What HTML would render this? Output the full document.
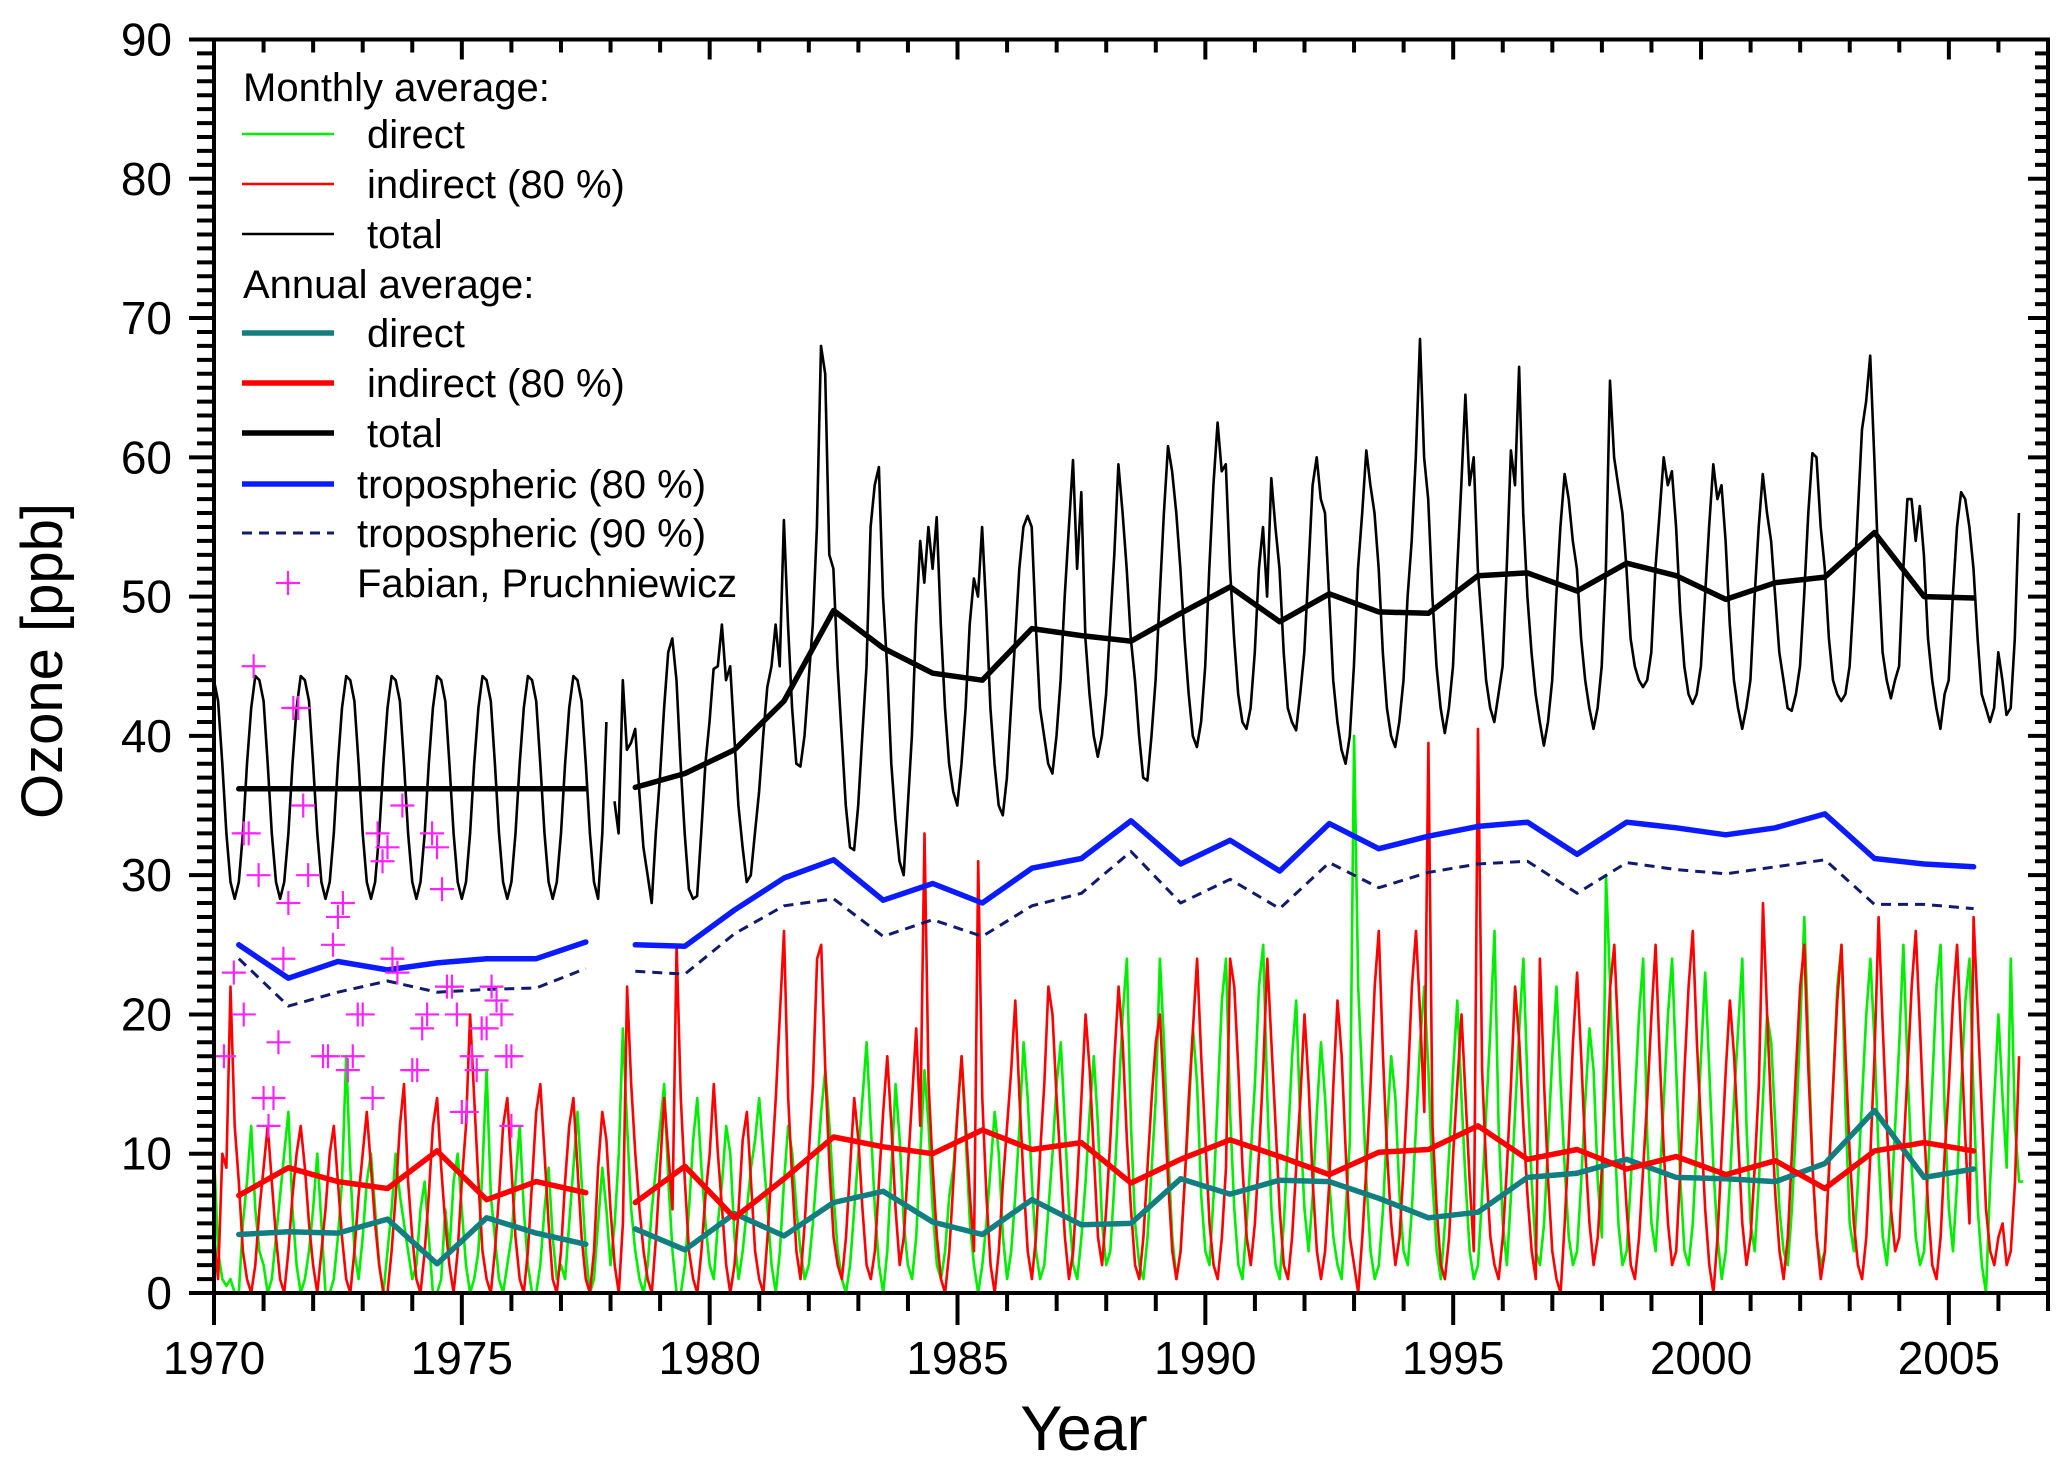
<!DOCTYPE html>
<html><head><meta charset="utf-8"><title>Ozone chart</title>
<style>
html,body{margin:0;padding:0;background:#fff;}
svg{display:block;font-family:"Liberation Sans",Arial,sans-serif;}
</style></head>
<body>
<svg id="chart" width="2067" height="1463" viewBox="0 0 2067 1463" xmlns="http://www.w3.org/2000/svg">
<defs><clipPath id="plotClip"><rect x="214" y="39" width="1834" height="1255"/></clipPath></defs>
<rect x="0" y="0" width="2067" height="1463" fill="#fff"/>
<g id="series" clip-path="url(#plotClip)"></g>
<g id="axes"></g>
<g id="legend"></g>
<text x="1084" y="1450" text-anchor="middle" font-size="63">Year</text>
<text transform="translate(62,661) rotate(-90)" text-anchor="middle" font-size="58">Ozone [ppb]</text>
</svg>
<script>
// ---------- data ----------
const annualYears = [1970.5,1971.5,1972.5,1973.5,1974.5,1975.5,1976.5,1977.5,1978.5,1979.5,1980.5,1981.5,1982.5,1983.5,1984.5,1985.5,1986.5,1987.5,1988.5,1989.5,1990.5,1991.5,1992.5,1993.5,1994.5,1995.5,1996.5,1997.5,1998.5,1999.5,2000.5,2001.5,2002.5,2003.5,2004.5,2005.5];
const annualTotal = [36.2,36.2,36.2,36.2,36.2,36.2,36.2,36.2,36.3,37.3,39,42.5,49,46.3,44.5,44,47.7,47.2,46.8,48.8,50.7,48.2,50.2,48.9,48.8,51.5,51.7,50.4,52.4,51.5,49.8,51,51.4,54.6,50,49.9];
const annualTrop80 = [25,22.6,23.8,23.2,23.7,24,24,25.2,25,24.9,27.5,29.8,31.1,28.2,29.4,28,30.5,31.2,33.9,30.8,32.5,30.3,33.7,31.9,32.8,33.5,33.8,31.5,33.8,33.4,32.9,33.4,34.4,31.2,30.8,30.6];
const annualTrop90 = [24,20.6,21.6,22.4,21.6,21.8,21.9,23.3,23.1,22.9,25.8,27.8,28.3,25.6,26.8,25.6,27.8,28.7,31.7,28,29.7,27.6,30.9,29.1,30.2,30.8,31,28.7,30.9,30.4,30.1,30.6,31.1,27.9,27.9,27.6];
const annualIndirect = [7,9,8,7.5,10.2,6.7,8,7.2,6.5,9.1,5.4,8.2,11.2,10.5,10,11.7,10.3,10.8,7.9,9.6,11,9.8,8.5,10.1,10.3,12,9.6,10.3,8.9,9.8,8.5,9.5,7.5,10.2,10.8,10.2];
const annualDirect = [4.2,4.4,4.3,5.3,2.1,5.4,4.3,3.5,4.6,3.1,5.7,4.1,6.5,7.3,5.1,4.2,6.7,4.9,5,8.2,7.1,8.1,8,6.8,5.4,5.8,8.3,8.6,9.6,8.3,8.2,8,9.3,13.1,8.3,8.9];
const annualBreakAfter = 1977.5;

const totalEarlyStart = 1970.0;
const totalEarly = [
44,42.5,38,33,29.5,28.3,29.5,33,38,42,44.3,44,
42.5,38,33,29.5,28.3,29.5,33,38,42,44.3,44,42.5,
38,33,29.5,28.3,29.5,33,38,42,44.3,44,42.5,38,
33,29.5,28.3,29.5,33,38,42,44.3,44,42.5,38,33,
29.5,28.3,29.5,33,38,42,44.3,44,42.5,38,33,29.5,
28.3,29.5,33,38,42,44.3,44,42.5,38,33,29.5,28.3,
29.5,33,38,42,44.3,44,42.5,38,33,29.5,28.3,29.5,
33,38,42,44.3,44,42.5,38,33,29.5,28.3,33,41];
const totalLateStart = 1978.08;
const totalLate = [
35.3,33,44,39,39.5,40.5,36,32,30,28,33,37,
42,46,47,44,38,33,29,28.3,28.5,33,38,41,
44.8,45,48,44,45,40,35,32,29.5,30,33,36,
40,43.5,45,48,45,55.5,48,42,38,37.8,40,44,
48,55,68,66,53,52,45,40,35,32,31.8,35,
40,45,55,58,59.3,50,45,38,34,31,30,35,
40,48,54,51,55,52,55.7,48,42,38,36,35,
38,42,48,51.3,50,55,49,42,38,35,34.3,37,
42,47,52,55,55.8,55,48,42,40,38,37.3,40,
44,50,55,59.8,52,57.5,47,43,40,38.5,40,43,
48,53,59.5,56,52,47,44,40,37,36.8,40,44,
50,56,60.8,59,56,52,47,43,40,39.2,41,45,
52,58,62.5,59,59.5,52,47,43,41,40.5,42,46,
52,55,50,58.5,55,52,46,42,41,40.4,43,46,
52,58,60,57,56,50,44,41,39,38,40,45,
52,56,60.5,58,56,52,46,42,40,39.2,41,44,
50,54,60,68.5,60,57,50,45,42,40.2,42,45,
52,58,64.5,58,60,52,48,44,42,41,43,45,
52,60.5,58,66.5,56,50,46,43,41,39.3,41,44,
50,55,58.8,57,54,52,47,44,42,40.5,42,45,
52,65.5,60,58,56,52,47,45,44,43.5,44,46,
52,56,60,58,59,55,49,45,43,42.3,43,45,
50,55,59.5,57,58,54,48,44,42,40.5,42,44,
50,55,58.8,56,54,50,46,44,42,41.8,43,45,
50,56,60.3,60,55,52,47,44,43,42.5,43,45,
50,56,62,64,67.3,60,52,46,44,42.7,44,45,
52,57,57,54,56.5,53,47,44,42,40.5,43,44,
50,55,57.5,57,55,52,47,43,42,41,42,46,
44,41.5,42,47,56];

const monthlyStart = 1970.0;
const monthlyDirect = [
10,3,1,0.5,1,0,0,5,8,12,6,3, 2,0,1,4,7,10,13,6,2,0,1,3, 6,10,5,0,0,1,4,8,17,9,3,1, 4,8,10,6,2,0,3,6,10,7,5,3,
1,2,6,8,4,0,0,1,6,3,8,10, 6,2,0,1,3,9,16,7,4,1,0,2, 4,8,12,6,2,0,0,2,6,9,4,1, 2,1,5,9,13,8,3,0,1,5,9,6,
2,5,10,19,12,6,3,1,0,2,6,9, 12,15,8,3,0,0,2,6,11,14,9,5, 2,1,5,8,12,10,4,1,3,6,9,11, 14,10,6,2,0,3,8,12,10,6,3,1,
2,5,9,13,16,12,7,3,1,0,2,6, 10,14,18,12,6,2,0,3,9,15,11,5, 2,1,4,10,16,12,6,2,1,3,7,9, 13,17,11,5,2,0,2,5,9,13,10,4,
1,3,7,12,18,14,8,3,1,2,6,10, 15,18,12,6,2,1,4,8,13,17,12,5, 2,3,8,14,20,24,12,5,2,1,4,9, 14,24,18,10,4,1,3,8,13,19,15,7,
3,2,7,14,21,24,13,6,2,1,5,10, 15,22,25,14,6,2,1,5,11,17,21,12, 6,3,7,13,18,14,8,4,2,1,6,11, 40,22,15,8,3,1,2,6,12,17,14,7,
3,2,6,12,18,22,16,8,3,1,5,10, 16,21,14,8,3,1,2,7,13,19,26,12, 5,2,7,13,19,24,15,8,3,2,5,11, 17,22,15,9,4,2,3,8,14,19,16,8,
4,30,22,12,5,2,3,8,14,20,24,11, 5,3,8,14,20,24,16,8,3,2,5,11, 17,23,16,9,4,1,3,8,14,19,24,12, 5,3,8,14,20,18,12,6,3,2,6,12,
19,27,18,9,4,2,3,9,15,22,25,13, 5,3,8,14,20,24,18,10,4,2,6,12, 18,25,16,9,4,2,3,9,15,22,25,13, 6,3,8,15,21,24,14,6,2,0,8,14,
20,14,9,24,12,8,8];
const monthlyIndirect = [
4,1,10,9,22,12,8,3,1,0,2,6, 9,12,8,4,1,0,3,7,10,12,9,5, 2,0,3,6,10,12,8,4,1,0,3,7, 10,13,9,5,2,0,0,3,7,12,15,8,
4,1,0,3,7,12,14,9,5,2,0,3, 8,12,20,14,8,3,1,0,3,7,12,14, 9,4,1,0,3,8,13,15,10,5,1,0, 3,8,12,14,9,4,1,0,3,9,13,11,
6,2,0,5,22,15,10,6,3,1,0,4, 9,14,10,6,25,14,8,3,1,0,3,7, 10,15,10,6,2,0,2,6,11,13,8,3, 1,0,4,9,14,20,26,14,8,3,1,5,
10,15,24,25,16,9,4,2,1,4,9,14, 11,6,2,1,3,8,13,17,12,6,2,4, 9,14,19,12,33,15,9,4,1,0,3,8, 13,17,12,7,3,31,14,7,2,0,3,8,
12,16,21,14,8,3,1,4,10,15,22,20, 14,9,4,1,3,8,14,20,16,10,4,2, 6,11,17,22,18,11,6,2,1,4,9,14, 18,20,14,8,3,1,3,8,14,19,24,17,
11,5,2,1,4,9,24,22,16,9,4,2, 5,10,16,24,18,12,6,2,1,4,9,14, 20,15,8,3,1,3,8,15,21,17,10,4, 2,0,4,9,15,22,26,17,10,5,2,4,
9,15,22,26,20,13,39.5,12,6,2,1,4, 10,15,20,14,8,3,40.5,16,9,4,2,1, 4,9,15,22,18,12,7,3,1,24,15,8, 3,1,0,5,11,18,23,17,10,5,2,4,
9,15,22,25,18,11,6,2,1,4,9,14, 20,25,17,10,5,2,3,9,16,22,26,18, 12,6,2,0,4,10,16,21,17,11,5,2, 4,9,15,28,20,13,7,3,1,4,10,16,
22,25,16,9,4,1,3,9,15,21,25,17, 10,5,2,1,4,10,17,27,19,12,6,3, 4,10,16,22,26,19,12,6,2,1,4,10, 15,21,25,18,11,5,27,20,13,6,3,2,
4,5,2,3,8,17];

const fabianYears = [1970.2,1970.4,1970.6,1970.6,1970.7,1970.8,1970.9,1971.0,1971.1,1971.2,1971.3,1971.4,1971.5,1971.6,1971.7,1971.8,1971.9,1972.2,1972.3,1972.4,1972.5,1972.6,1972.7,1972.8,1972.9,1973.0,1973.2,1973.3,1973.4,1973.5,1973.6,1973.7,1973.8,1974.0,1974.1,1974.2,1974.3,1974.4,1974.5,1974.6,1974.7,1974.8,1974.9,1975.0,1975.1,1975.2,1975.3,1975.4,1975.5,1975.6,1975.7,1975.8,1975.9,1976.0,1976.0];
const fabianValues = [17,23,20,33,33,45,30,14,12,14,18,24,28,42,42,35,30,17,17,25,27,28,16,17,20,20,14,33,31,32,24,23,35,16,16,19,20,33,32,29,22,22,20,13,13,17,16,19,19,22,21,20,17,12,17];

const yTicks = [0,10,20,30,40,50,60,70,80,90];
const xTicks = [1970,1975,1980,1985,1990,1995,2000,2005];

// ---------- scales ----------
const X0=214, X1=2048, Y0=1293, Y1=39.5, XMIN=1970, XMAX=2007, YMAX=90;
const xs = v => X0 + (v-XMIN)*(X1-X0)/(XMAX-XMIN);
const ys = v => Y0 - v*(Y0-Y1)/YMAX;
const NS='http://www.w3.org/2000/svg';
function mk(tag, attrs, parent){const e=document.createElementNS(NS,tag);for(const k in attrs)e.setAttribute(k,attrs[k]);parent.appendChild(e);return e;}
const gS=document.getElementById('series'), gA=document.getElementById('axes'), gL=document.getElementById('legend');

function pathFrom(xsArr, vals){return vals.map((v,i)=>(i?'L':'M')+xs(xsArr[i]).toFixed(1)+','+ys(v).toFixed(1)).join('');}
function monthlyX(start, n){const a=[];for(let i=0;i<n;i++)a.push(start+i/12);return a;}

function drawMonthly(start, vals, color, w, name){
  const p=mk('path',{d:pathFrom(monthlyX(start,vals.length),vals),fill:'none',stroke:color,'stroke-width':w,'stroke-linejoin':'round'},gS);
  
  
}
drawMonthly(monthlyStart, monthlyDirect, '#00ee00', 2.6, 'monthly-direct-line');
drawMonthly(monthlyStart, monthlyIndirect, '#ff0000', 2.6, 'monthly-indirect-line');
drawMonthly(totalEarlyStart, totalEarly, '#000', 2.6, 'monthly-total-line-early');
drawMonthly(totalLateStart, totalLate, '#000', 2.6, 'monthly-total-line-late');

function drawAnnual(vals, color, w, dash, name){
  const a=[],b=[],av=[],bv=[];
  annualYears.forEach((y,i)=>{ if(y<=annualBreakAfter){a.push(y);av.push(vals[i]);} else {b.push(y);bv.push(vals[i]);} });
  [[a,av],[b,bv]].forEach(([xx,vv])=>{
    const attrs={d:pathFrom(xx,vv),fill:'none',stroke:color,'stroke-width':w,'stroke-linejoin':'round','stroke-linecap':'round'};
    if(dash){attrs['stroke-dasharray']=dash;attrs['stroke-linecap']='butt';}
    const p=mk('path',attrs,gS);
    
    
  });
}
drawAnnual(annualDirect, '#117f80', 5.5, null, 'annual-direct-line');
drawAnnual(annualIndirect, '#ff0000', 5.5, null, 'annual-indirect-line');
drawAnnual(annualTotal, '#000', 5.5, null, 'annual-total-line');
drawAnnual(annualTrop80, '#0a1cff', 5.5, null, 'annual-tropospheric-80-line');
drawAnnual(annualTrop90, '#101a6e', 3, '10,7', 'annual-tropospheric-90-line');

fabianYears.forEach((yr,i)=>{
  const cx=xs(yr), cy=ys(fabianValues[i]), r=12;
  const g=mk('path',{d:`M${cx-r},${cy}H${cx+r}M${cx},${cy-r}V${cy+r}`,stroke:'#ff22ff','stroke-width':2.2,fill:'none'},gS);
  
  
});

// ---------- axes ----------
mk('rect',{x:X0,y:Y1,width:X1-X0,height:Y0-Y1,fill:'none',stroke:'#000','stroke-width':4},gA);
for(let v=0; v<=YMAX; v++){
  const y=ys(v), major=v%10===0, L=major?25:17;
  mk('line',{x1:X0-L,x2:X0,y1:y,y2:y,stroke:'#000','stroke-width':4},gA);
  mk('line',{x1:X1,x2:X1-(major?20:13),y1:y,y2:y,stroke:'#000','stroke-width':4},gA);
}
yTicks.forEach(v=>{
  const t=mk('text',{x:172,y:ys(v)+16,'text-anchor':'end','font-size':46},gA);
  t.textContent=v;
  
  
});
for(let yr=XMIN; yr<=XMAX; yr++){
  const x=xs(yr), major=yr%5===0;
  mk('line',{x1:x,x2:x,y1:Y0,y2:Y0+(major?32:18),stroke:'#000','stroke-width':4},gA);
  mk('line',{x1:x,x2:x,y1:Y1,y2:Y1+(major?20:13),stroke:'#000','stroke-width':4},gA);
}
xTicks.forEach(v=>{
  const t=mk('text',{x:xs(v),y:1374,'text-anchor':'middle','font-size':46},gA);
  t.textContent=v;
  
  
});

// ---------- legend ----------
const legendRows = [
  {label:'Monthly average:', hdr:true, y:87},
  {label:'direct', color:'#00ee00', w:2.6, y:134, tx:367},
  {label:'indirect (80 %)', color:'#ff0000', w:2.6, y:184, tx:367},
  {label:'total', color:'#000', w:2.6, y:234, tx:367},
  {label:'Annual average:', hdr:true, y:284},
  {label:'direct', color:'#117f80', w:5.5, y:333, tx:367},
  {label:'indirect (80 %)', color:'#ff0000', w:5.5, y:383, tx:367},
  {label:'total', color:'#000', w:5.5, y:433, tx:367},
  {label:'tropospheric (80 %)', color:'#0a1cff', w:5.5, y:484, tx:357},
  {label:'tropospheric (90 %)', color:'#101a6e', w:3, dash:'10,7', y:533, tx:357},
  {label:'Fabian, Pruchniewicz', marker:true, y:583, tx:357}
];
legendRows.forEach(r=>{
  const g=mk('g',{},gL);
  
  
  if(r.hdr){
    const t=mk('text',{x:243,y:r.y+14,'font-size':40},g); t.textContent=r.label; return;
  }
  if(r.marker){
    mk('path',{d:`M276,${r.y}H300M288,${r.y-12}V${r.y+12}`,stroke:'#ff22ff','stroke-width':2.2},g);
  } else {
    const a={x1:242,x2:334,y1:r.y,y2:r.y,stroke:r.color,'stroke-width':r.w};
    if(r.dash)a['stroke-dasharray']=r.dash;
    mk('line',a,g);
  }
  const t=mk('text',{x:r.tx,y:r.y+14,'font-size':40},g); t.textContent=r.label;
});
</script>
</body></html>
